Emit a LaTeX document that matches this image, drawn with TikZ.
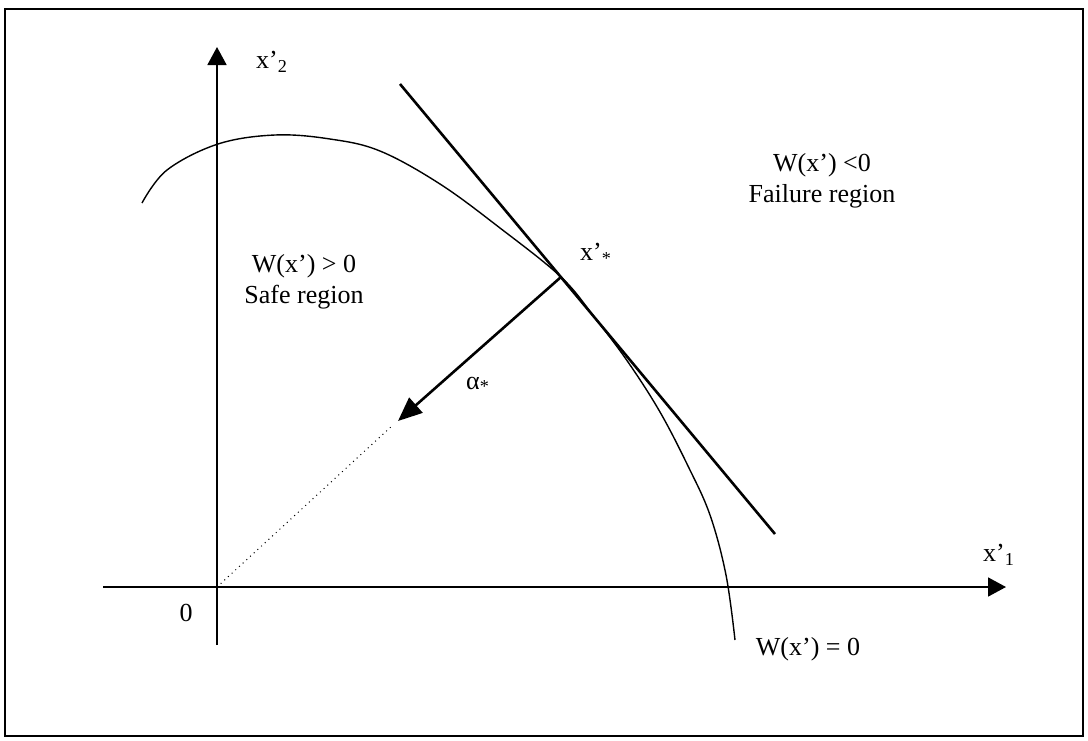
\documentclass[tikz,border=0pt]{standalone}
\usepackage{fontspec}
\setmainfont{Liberation Serif}
\usetikzlibrary{arrows.meta}

\begin{document}
\begin{tikzpicture}[x=0.5pt,y=-0.5pt,
  lbl/.style={font=\fontsize{13}{15.5}\selectfont, align=center, inner sep=0pt},
  axis/.style={line width=0.9pt, -{Triangle[length=9pt,width=9.5pt]}}]
\useasboundingbox (0,0) rectangle (1088,740);
\draw[line width=0.6pt] (5,9) rectangle (1083,736);
\coordinate (O) at (217,587);
\coordinate (xl) at (103,587);
\coordinate (xr) at (1006,587);
\coordinate (yb) at (217,645);
\coordinate (yt) at (217,47);
\coordinate (ta) at (400,84);
\coordinate (tb) at (775,534);
\coordinate (xs) at (561,277);
\coordinate (ah) at (398,421);
\coordinate (de) at (393,425);
\draw[axis] (xl) -- (xr);
\draw[axis] (yb) -- (yt);
\draw[line width=1.3pt] (ta) -- (tb);
\draw[line width=0.7pt] plot[smooth, tension=0.6] coordinates {(142,203) (167,170) (218,144) (275,135) (330,139) (380,151) (440,184) (500,228) (xs) (595,318) (628,362) (660,412) (688,466) (710,515) (726,575) (735,640)};
\draw[line width=1.3pt, -{Triangle[length=12pt,width=10pt]}] (xs) -- (ah);
\draw[dotted, line width=0.5pt] (O) -- (de);
\node[lbl] (x2) at (272,62) {x’\textsubscript{2}};
\node[lbl] (x1) at (999,555) {x’\textsubscript{1}};
\node[lbl] (zero) at (186,613) {0};
\node[lbl] (xstar) at (596,254) {x’\textsubscript{*}};
\node[lbl] (alpha) at (478,385) {α\textsubscript{*}};
\node[lbl] (safe) at (304,282) {W(x’) > 0\\Safe region};
\node[lbl] (fail) at (822,181) {W(x’) <0\\Failure region};
\node[lbl] (limit) at (808,649) {W(x’) = 0};
\end{tikzpicture}
\end{document}
